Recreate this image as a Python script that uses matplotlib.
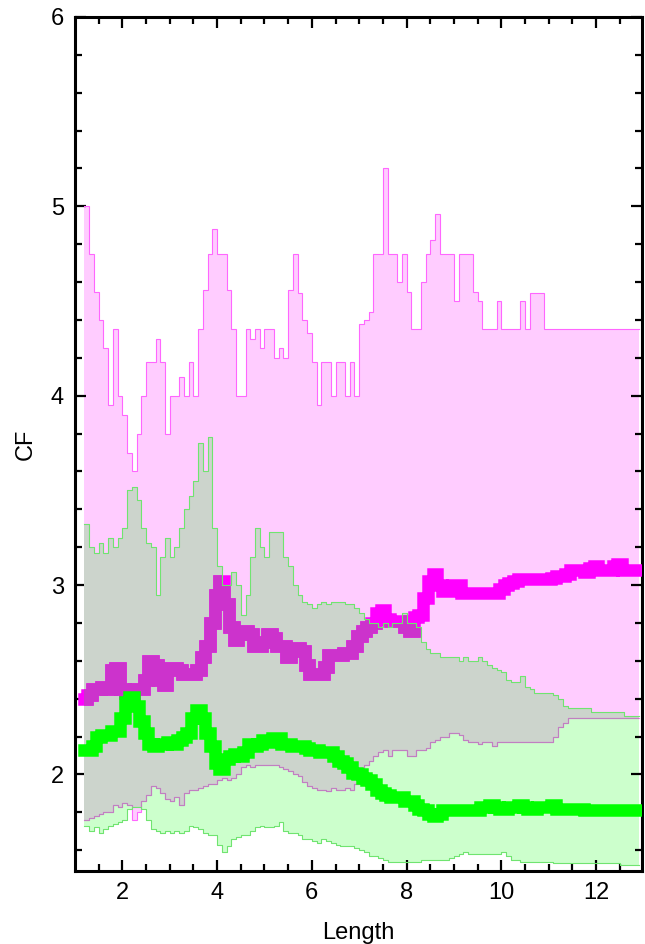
import numpy as np
import matplotlib
matplotlib.use("Agg")
import matplotlib.pyplot as plt

plt.rcParams['font.family'] = ['Liberation Sans', 'DejaVu Sans']

# shared length grid, 1.2 .. 12.9 in steps of 0.1
length = np.round(np.arange(12, 130) / 10.0, 1)

magenta_hi = [
    5.0, 4.75, 4.55, 4.4, 4.25, 3.95, 4.35, 4.0, 3.9, 3.7,
    3.6, 3.8, 4.0, 4.18, 4.18, 4.3, 4.18, 3.8, 4.0, 4.0,
    4.1, 4.0, 4.18, 4.0, 4.35, 4.56, 4.75, 4.88, 4.75, 4.75,
    4.56, 4.35, 4.0, 4.0, 4.35, 4.3, 4.35, 4.25, 4.35, 4.35,
    4.2, 4.25, 4.2, 4.56, 4.75, 4.54, 4.4, 4.33, 4.18, 3.95,
    4.18, 4.18, 4.0, 4.18, 4.18, 4.0, 4.18, 4.0, 4.38, 4.4,
    4.44, 4.75, 4.75, 5.2, 4.75, 4.75, 4.6, 4.75, 4.55, 4.35,
    4.35, 4.6, 4.75, 4.82, 4.96, 4.75, 4.75, 4.75, 4.5, 4.75,
    4.75, 4.75, 4.55, 4.5, 4.35, 4.35, 4.35, 4.5, 4.35, 4.35,
    4.35, 4.35, 4.5, 4.35, 4.54, 4.54, 4.54, 4.35, 4.35, 4.35,
    4.35, 4.35, 4.35, 4.35, 4.35, 4.35, 4.35, 4.35, 4.35, 4.35,
    4.35, 4.35, 4.35, 4.35, 4.35, 4.35, 4.35, 4.35,
]
magenta_lo = [
    1.76, 1.77, 1.78, 1.79, 1.8, 1.8, 1.84, 1.83, 1.85, 1.84,
    1.76, 1.8, 1.86, 1.89, 1.94, 1.93, 1.9, 1.87, 1.86, 1.88,
    1.84, 1.9, 1.92, 1.92, 1.93, 1.94, 1.95, 1.95, 1.97, 1.98,
    1.97, 1.98, 2.0, 2.04, 2.05, 2.04, 2.05, 2.05, 2.05, 2.05,
    2.05, 2.04, 2.03, 2.02, 2.0, 1.99, 1.96, 1.94, 1.93, 1.92,
    1.92, 1.91, 1.93, 1.92, 1.92, 1.93, 1.92, 1.95, 2.03, 2.05,
    2.07, 2.1, 2.12, 2.13, 2.1, 2.13, 2.13, 2.13, 2.1, 2.1,
    2.13, 2.13, 2.14, 2.17, 2.18, 2.2, 2.2, 2.22, 2.22, 2.21,
    2.18, 2.17, 2.17, 2.16, 2.17, 2.17, 2.15, 2.17, 2.17, 2.17,
    2.17, 2.17, 2.17, 2.17, 2.17, 2.17, 2.17, 2.17, 2.17, 2.2,
    2.25, 2.27, 2.3, 2.3, 2.3, 2.3, 2.3, 2.3, 2.3, 2.3,
    2.3, 2.3, 2.3, 2.3, 2.3, 2.3, 2.3, 2.3,
]
magenta_mid = [
    2.40, 2.42, 2.45, 2.45, 2.46, 2.45, 2.55, 2.56, 2.45, 2.43,
    2.42, 2.45, 2.45, 2.5, 2.6, 2.58, 2.5, 2.47, 2.56, 2.56,
    2.55, 2.53, 2.53, 2.53, 2.55, 2.62, 2.68, 2.8, 2.95, 3.02,
    2.9, 2.78, 2.71, 2.74, 2.76, 2.74, 2.68, 2.68, 2.7, 2.74,
    2.72, 2.68, 2.68, 2.62, 2.67, 2.67, 2.65, 2.58, 2.53, 2.53,
    2.53, 2.57, 2.63, 2.63, 2.63, 2.64, 2.64, 2.68, 2.73, 2.76,
    2.78, 2.8, 2.85, 2.87, 2.82, 2.81, 2.81, 2.81, 2.78, 2.76,
    2.83, 2.84, 2.93, 3.02, 3.06, 3.0, 2.97, 2.97, 3.0, 3.0,
    2.96, 2.96, 2.96, 2.96, 2.96, 2.96, 2.96, 2.96, 2.98, 3.0,
    3.01, 3.02, 3.03, 3.03, 3.03, 3.03, 3.03, 3.03, 3.03, 3.04,
    3.05, 3.05, 3.06, 3.08, 3.08, 3.08, 3.07, 3.09, 3.1, 3.08,
    3.08, 3.08, 3.1, 3.11, 3.08, 3.08, 3.08, 3.08,
]

green_hi = [
    3.32, 3.2, 3.17, 3.22, 3.17, 3.25, 3.2, 3.25, 3.3, 3.5,
    3.52, 3.45, 3.3, 3.22, 3.2, 2.95, 3.15, 3.25, 3.15, 3.2,
    3.3, 3.4, 3.47, 3.55, 3.75, 3.6, 3.78, 3.3, 3.1, 3.0,
    3.0, 3.07, 3.0, 2.84, 2.95, 3.15, 3.3, 3.2, 3.15, 3.28,
    3.28, 3.28, 3.15, 3.1, 3.0, 2.95, 2.91, 2.9, 2.88, 2.9,
    2.91, 2.9, 2.91, 2.91, 2.91, 2.9, 2.9, 2.88, 2.85, 2.82,
    2.8, 2.8, 2.78, 2.8, 2.78, 2.8, 2.8, 2.85, 2.8, 2.8,
    2.78, 2.7, 2.66, 2.64, 2.64, 2.62, 2.62, 2.62, 2.62, 2.6,
    2.62, 2.6, 2.6, 2.62, 2.6, 2.58, 2.56, 2.55, 2.54, 2.5,
    2.49, 2.49, 2.52, 2.46, 2.45, 2.43, 2.43, 2.43, 2.43, 2.42,
    2.4, 2.36, 2.35, 2.35, 2.35, 2.35, 2.35, 2.33, 2.33, 2.33,
    2.33, 2.33, 2.33, 2.33, 2.31, 2.31, 2.31, 2.31,
]
green_lo = [
    1.73, 1.7, 1.72, 1.69, 1.71, 1.73, 1.74, 1.75, 1.76, 1.82,
    1.83, 1.83, 1.82, 1.76, 1.71, 1.7, 1.69, 1.7, 1.69, 1.7,
    1.69, 1.7, 1.73, 1.72, 1.71, 1.69, 1.68, 1.68, 1.63, 1.59,
    1.62, 1.66, 1.67, 1.68, 1.68, 1.7, 1.72, 1.73, 1.72, 1.72,
    1.73, 1.75, 1.7, 1.69, 1.69, 1.68, 1.66, 1.66, 1.65, 1.64,
    1.66, 1.65, 1.64, 1.63, 1.62, 1.62, 1.62, 1.61, 1.6, 1.59,
    1.57, 1.57, 1.56, 1.55, 1.54, 1.54, 1.54, 1.54, 1.54, 1.54,
    1.54, 1.55, 1.55, 1.55, 1.55, 1.55, 1.55, 1.56, 1.57, 1.58,
    1.59, 1.58, 1.58, 1.58, 1.58, 1.58, 1.58, 1.58, 1.59, 1.57,
    1.55, 1.55, 1.54, 1.54, 1.54, 1.54, 1.54, 1.54, 1.54, 1.53,
    1.53, 1.53, 1.53, 1.53, 1.53, 1.53, 1.53, 1.53, 1.53, 1.53,
    1.53, 1.53, 1.53, 1.52, 1.52, 1.52, 1.52, 1.52,
]
green_mid = [
    2.13, 2.13, 2.15, 2.2, 2.21, 2.21, 2.23, 2.23, 2.3, 2.38,
    2.41, 2.36, 2.28, 2.22, 2.16, 2.15, 2.16, 2.16, 2.17, 2.16,
    2.18, 2.2, 2.22, 2.3, 2.34, 2.3, 2.22, 2.15, 2.06, 2.03,
    2.08, 2.1, 2.11, 2.1, 2.12, 2.16, 2.15, 2.16, 2.18, 2.17,
    2.19, 2.19, 2.16, 2.16, 2.15, 2.15, 2.15, 2.14, 2.13, 2.13,
    2.12, 2.12, 2.12, 2.1, 2.07, 2.06, 2.04, 2.01, 2.0, 1.98,
    1.97, 1.95, 1.92, 1.9, 1.89, 1.88, 1.88, 1.88, 1.86, 1.86,
    1.84, 1.82, 1.81, 1.79, 1.78, 1.79, 1.81, 1.81, 1.81, 1.81,
    1.81, 1.81, 1.81, 1.81, 1.83, 1.83, 1.84, 1.83, 1.82, 1.82,
    1.83, 1.83, 1.84, 1.83, 1.82, 1.82, 1.83, 1.83, 1.83, 1.84,
    1.82, 1.82, 1.82, 1.82, 1.82, 1.82, 1.81, 1.81, 1.81, 1.81,
    1.81, 1.81, 1.81, 1.81, 1.81, 1.81, 1.81, 1.81,
]

mhi, mlo, mmid = np.array(magenta_hi), np.array(magenta_lo), np.array(magenta_mid)
ghi, glo, gmid = np.array(green_hi), np.array(green_lo), np.array(green_mid)

fig = plt.figure(figsize=(6.45, 9.44), dpi=100)
ax = fig.add_axes([0.1163, 0.0773, 0.8790, 0.9047])

# bands
ax.fill_between(length, mlo, mhi, step='post', color='#ffccff', lw=0, zorder=1)
gband = ax.fill_between(length, glo, ghi, step='post', color='#ccffcc', lw=0, zorder=1.5)
olo = np.maximum(mlo, glo)
ohi = np.minimum(mhi, ghi)
ax.fill_between(length, olo, ohi, where=ohi > olo, step='post',
                color='#ccd4cc', lw=0, zorder=1.6)
clip = gband.get_paths()[0]

# magenta lines, darkened where the green band lies over them
for ys, lw, c1, c2, ds in [(mhi, 0.8, '#ff66ff', '#cc66cc', 'steps-post'),
                           (mlo, 0.8, '#ff66ff', '#c080c0', 'steps-post'),
                           (mmid, 9, '#ff00ff', '#cc33cc', 'steps-mid')]:
    ax.plot(length, ys, color=c1, lw=lw, drawstyle=ds, zorder=3,
            solid_joinstyle='miter')
    dark, = ax.plot(length, ys, color=c2, lw=lw, drawstyle=ds, zorder=3.1,
                    solid_joinstyle='miter')
    dark.set_clip_path(clip, ax.transData)

# green lines
ax.plot(length, ghi, color='#70e470', lw=0.8, drawstyle='steps-post', zorder=4)
ax.plot(length, glo, color='#70e470', lw=0.8, drawstyle='steps-post', zorder=4)
ax.plot(length, gmid, color='#00ff00', lw=9, drawstyle='steps-mid', zorder=5,
        solid_joinstyle='miter')

ax.set_xlim(1.0, 12.97)
ax.set_ylim(1.49, 6.0)
ax.set_xticks([2, 4, 6, 8, 10, 12])
ax.set_xticks(np.arange(1.5, 13, 0.5), minor=True)
ax.set_yticks([2, 3, 4, 5, 6])
ax.set_yticks(np.arange(1.6, 6.0, 0.2), minor=True)
ax.tick_params(which='both', direction='in', top=True, right=True, width=1.6,
               color='black')
ax.tick_params(which='major', length=8, labelsize=17, pad=8)
ax.tick_params(which='minor', length=5)
for s in ax.spines.values():
    s.set_linewidth(2.2)

ax.set_xlabel('Length', fontsize=17, labelpad=13)
ax.set_ylabel('CF', fontsize=17, labelpad=10)

fig.savefig('out.png', dpi=100)
